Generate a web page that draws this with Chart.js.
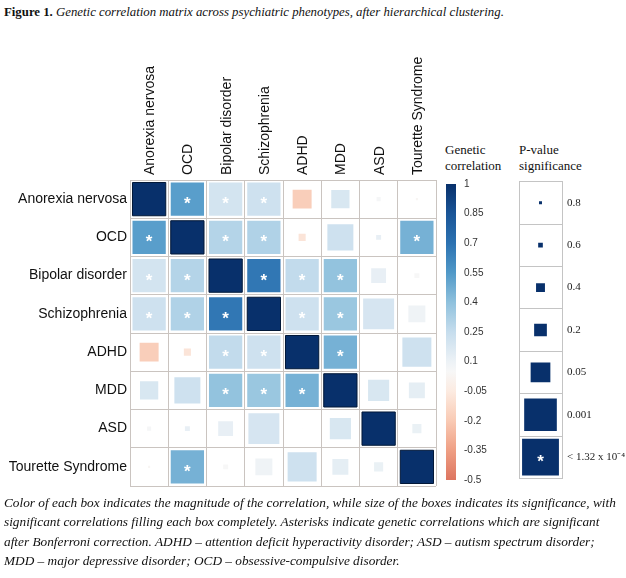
<!DOCTYPE html>
<html><head><meta charset="utf-8">
<script src="https://cdn.jsdelivr.net/npm/chart.js@4.4.1/dist/chart.umd.min.js"></script>
<style>
html,body{margin:0;padding:0;background:#fff;width:626px;height:578px;overflow:hidden;position:relative;}
.serif{font-family:'Liberation Serif','Times New Roman',serif;color:#111;}
#title{position:absolute;left:4px;top:4px;font-size:12.8px;line-height:16px;white-space:nowrap;}
#caption{position:absolute;left:4px;top:493px;font-size:13.3px;line-height:19.3px;font-style:italic;white-space:nowrap;}
canvas{position:absolute;}
#main{left:0;top:0;width:460px;height:500px;}
#cbar{left:446px;top:170px;width:60px;height:325px;}
#plegend{left:505px;top:170px;width:121px;height:320px;}
.lt{position:absolute;font-size:13px;line-height:16px;white-space:nowrap;}
</style></head><body>
<div id="title" class="serif"><b>Figure 1.</b> <i>Genetic correlation matrix across psychiatric phenotypes, after hierarchical clustering.</i></div>
<div class="serif lt" style="left:445px;top:142px">Genetic<br>correlation</div>
<div class="serif lt" style="left:519px;top:142px">P-value<br>significance</div>
<canvas id="main" width="460" height="500"></canvas>
<canvas id="cbar" width="60" height="325"></canvas>
<canvas id="plegend" width="121" height="320"></canvas>
<div id="caption" class="serif">Color of each box indicates the magnitude of the correlation, while size of the boxes indicates its significance, with<br>significant correlations filling each box completely. Asterisks indicate genetic correlations which are significant<br>after Bonferroni correction. ADHD – attention deficit hyperactivity disorder; ASD – autism spectrum disorder;<br>MDD – major depressive disorder; OCD – obsessive-compulsive disorder.</div>
<script>
// ---- data ----
const categories = ['Anorexia nervosa','OCD','Bipolar disorder','Schizophrenia','ADHD','MDD','ASD','Tourette Syndrome'];
const corrAN   = [1, 0.53, 0.20, 0.22, -0.18, 0.18, 0.06, 0.03];
const corrOCD  = [0.53, 1, 0.30, 0.31, -0.08, 0.22, 0.12, 0.46];
const corrBIP  = [0.20, 0.30, 1, 0.68, 0.26, 0.39, 0.12, 0.05];
const corrSCZ  = [0.22, 0.31, 0.68, 1, 0.22, 0.37, 0.19, 0.09];
const corrADHD = [-0.18, -0.08, 0.26, 0.22, 1, 0.46, 0.00, 0.22];
const corrMDD  = [0.18, 0.22, 0.39, 0.37, 0.46, 1, 0.18, 0.13];
const corrASD  = [0.06, 0.12, 0.12, 0.19, 0.00, 0.18, 1, 0.11];
const corrTS   = [0.03, 0.46, 0.05, 0.09, 0.22, 0.13, 0.11, 1];
const pAN   = [0, 1e-6, 1e-6, 1e-6, 0.045, 0.048, 0.62, 0.85];
const pOCD  = [1e-6, 0, 1e-6, 1e-6, 0.45, 0.0155, 0.56, 1e-6];
const pBIP  = [1e-6, 1e-6, 0, 1e-6, 1e-6, 1e-6, 0.12, 0.56];
const pSCZ  = [1e-6, 1e-6, 1e-6, 0, 1e-6, 1e-6, 0.0006, 0.069];
const pADHD = [0.045, 0.45, 1e-6, 1e-6, 0, 1e-6, 0.97, 0.0029];
const pMDD  = [0.048, 0.0155, 1e-6, 1e-6, 1e-6, 0, 0.036, 0.093];
const pASD  = [0.62, 0.56, 0.12, 0.0006, 0.97, 0.036, 0, 0.34];
const pTS   = [0.85, 1e-6, 0.56, 0.069, 0.0029, 0.093, 0.34, 0];
const bonferroni = 1.32e-4;
const colorbarTicks = [1, 0.85, 0.7, 0.55, 0.4, 0.25, 0.1, -0.05, -0.2, -0.35, -0.5];
const pLegendLabels = ['0.8','0.6','0.4','0.2','0.05','0.001','< 1.32 x 10\u207B\u2074'];
const pLegendValues = [0.8, 0.6, 0.4, 0.2, 0.05, 0.001, 1e-5];

const corrRows = [corrAN, corrOCD, corrBIP, corrSCZ, corrADHD, corrMDD, corrASD, corrTS];
const pRows = [pAN, pOCD, pBIP, pSCZ, pADHD, pMDD, pASD, pTS];

// ---- scales (styles) ----
const corrStops = [[-0.5,'#dd7560'],[-0.35,'#ef9f84'],[-0.2,'#f9cab4'],[-0.05,'#fcebe1'],[0.05,'#f7f7f7'],[0.1,'#edf2f6'],[0.25,'#c6dded'],[0.4,'#8fc1dd'],[0.55,'#5199c8'],[0.7,'#2c72b1'],[0.85,'#1a5597'],[1,'#08306b']];
function hex2rgb(h){return [parseInt(h.substr(1,2),16),parseInt(h.substr(3,2),16),parseInt(h.substr(5,2),16)];}
function colorFor(v){
  if(v<=corrStops[0][0]) return corrStops[0][1];
  for(let k=1;k<corrStops.length;k++){
    if(v<=corrStops[k][0]){
      const [v0,c0]=corrStops[k-1],[v1,c1]=corrStops[k];
      const t=(v-v0)/(v1-v0),a=hex2rgb(c0),b=hex2rgb(c1);
      return 'rgb('+a.map((x,i)=>Math.round(x+(b[i]-x)*t)).join(',')+')';
    }
  }
  return corrStops[corrStops.length-1][1];
}
const sizeStops = [[1,0],[0.8,0.07],[0.6,0.11],[0.4,0.21],[0.2,0.30],[0.05,0.465],[0.001,0.77],[0,0.87]];
function sizeFor(p){
  for(let k=1;k<sizeStops.length;k++){
    if(p>=sizeStops[k][0]){
      const [p0,f0]=sizeStops[k-1],[p1,f1]=sizeStops[k];
      return f0+(f1-f0)*(p0-p)/(p0-p1);
    }
  }
  return 0.87;
}

function makeAsterisk(sel){
  return {id:'ast',afterDatasetsDraw(chart){
    const ctx=chart.ctx, meta=chart.getDatasetMeta(0), data=chart.data.datasets[0].data;
    ctx.save(); ctx.fillStyle='#ffffff'; ctx.font='bold 17px "Liberation Sans", Arial, sans-serif';
    ctx.textAlign='center'; ctx.textBaseline='alphabetic';
    meta.data.forEach((el,k)=>{ if(sel(data[k])) ctx.fillText('*',el.x,el.y+10); });
    ctx.restore();
  }};
}

const points=[];
categories.forEach((rc,i)=>categories.forEach((cc,j)=>{
  points.push({x:cc,y:rc,r:corrRows[i][j],p:pRows[i][j],diag:i===j});
}));

const gridCol='#cac4c0';
const radiusMain = c=>{const a=c.chart.chartArea; if(!a||!c.raw) return 0; const cell=(a.right-a.left)/categories.length; return sizeFor(c.raw.p)*cell/Math.SQRT2;};
new Chart(document.getElementById('main'),{
  type:'scatter',
  data:{datasets:[{data:points,pointStyle:'rect',
    pointBackgroundColor:c=>c.raw?colorFor(c.raw.r):'#fff',
    pointBorderColor:c=>c.raw&&c.raw.diag?'#021838':(c.raw?colorFor(c.raw.r):'#fff'),
    pointBorderWidth:c=>c.raw&&c.raw.diag?1:0,
    pointRadius:radiusMain,pointHoverRadius:radiusMain}]},
  options:{responsive:false,animation:false,events:[],devicePixelRatio:1,
    layout:{padding:{left:0,top:0,right:24,bottom:14}},
    plugins:{legend:{display:false},tooltip:{enabled:false}},
    scales:{
      x:{type:'category',labels:categories,position:'top',offset:true,
        grid:{offset:true,color:gridCol,lineWidth:1,drawTicks:false},
        border:{color:gridCol},
        ticks:{minRotation:90,maxRotation:90,autoSkip:false,padding:5,labelOffset:18,color:'#111',font:{family:'"Liberation Sans", Arial, sans-serif',size:14}},
        afterFit:s=>{s.height=180;}},
      y:{type:'category',labels:categories,offset:true,
        grid:{offset:true,color:gridCol,lineWidth:1,drawTicks:false},
        border:{color:gridCol},
        ticks:{autoSkip:false,padding:3,color:'#111',font:{family:'"Liberation Sans", Arial, sans-serif',size:14}},
        afterFit:s=>{s.width=130;}}
    }},
  plugins:[makeAsterisk(d=>!d.diag && d.p<bonferroni)]
});

new Chart(document.getElementById('cbar'),{
  type:'bar',
  data:{labels:['c'],datasets:[{data:[[colorbarTicks[colorbarTicks.length-1],colorbarTicks[0]]],
    backgroundColor:c=>{const ch=c.chart, ys=ch.scales.y; if(!ys||!ch.chartArea) return '#fff';
      const y0=ys.getPixelForValue(-0.5), y1=ys.getPixelForValue(1);
      const g=ch.ctx.createLinearGradient(0,y0,0,y1);
      corrStops.forEach(([v,col])=>g.addColorStop((v+0.5)/1.5,col)); return g;},
    barPercentage:1,categoryPercentage:1,borderWidth:0}]},
  options:{responsive:false,animation:false,events:[],devicePixelRatio:1,
    layout:{padding:{left:0,top:11,right:0,bottom:15}},
    plugins:{legend:{display:false},tooltip:{enabled:false}},
    scales:{
      x:{display:false},
      y:{position:'right',min:-0.5,max:1,
        afterBuildTicks:s=>{s.ticks=colorbarTicks.map(v=>({value:v}));},
        grid:{display:false,drawTicks:false},border:{display:false},
        ticks:{padding:8,color:'#333',font:{family:'"Liberation Sans", Arial, sans-serif',size:10},callback:v=>String(v)},
        afterFit:s=>{s.width=50;}}
    }}
});

const legendPts = pLegendLabels.map((l,i)=>({x:'p',y:l,p:pLegendValues[i]}));
const radiusLeg = c=>{const a=c.chart.chartArea; if(!a||!c.raw) return 0; const cell=(a.bottom-a.top)/pLegendLabels.length; return sizeFor(c.raw.p)*cell/Math.SQRT2;};
const legGrid='#c4c4c4';
new Chart(document.getElementById('plegend'),{
  type:'scatter',
  data:{datasets:[{data:legendPts,pointStyle:'rect',pointBackgroundColor:'#08306b',pointBorderWidth:0,
    pointRadius:radiusLeg,pointHoverRadius:radiusLeg}]},
  options:{responsive:false,animation:false,events:[],devicePixelRatio:1,
    layout:{padding:{left:14,top:10,right:0,bottom:7}},
    plugins:{legend:{display:false},tooltip:{enabled:false}},
    scales:{
      x:{type:'category',labels:['p'],offset:true,
        grid:{offset:true,color:legGrid,drawTicks:false},border:{color:legGrid},
        ticks:{display:false},afterFit:s=>{s.height=0;}},
      y:{type:'category',labels:pLegendLabels,position:'right',offset:true,
        grid:{offset:true,color:legGrid,drawTicks:false},border:{color:legGrid},
        ticks:{autoSkip:false,padding:5,color:'#222',font:{family:'"Liberation Serif", "Times New Roman", serif',size:11}},
        afterFit:s=>{s.width=64;}}
    }},
  plugins:[makeAsterisk(d=>d.p<bonferroni)]
});
</script>
</body></html>
